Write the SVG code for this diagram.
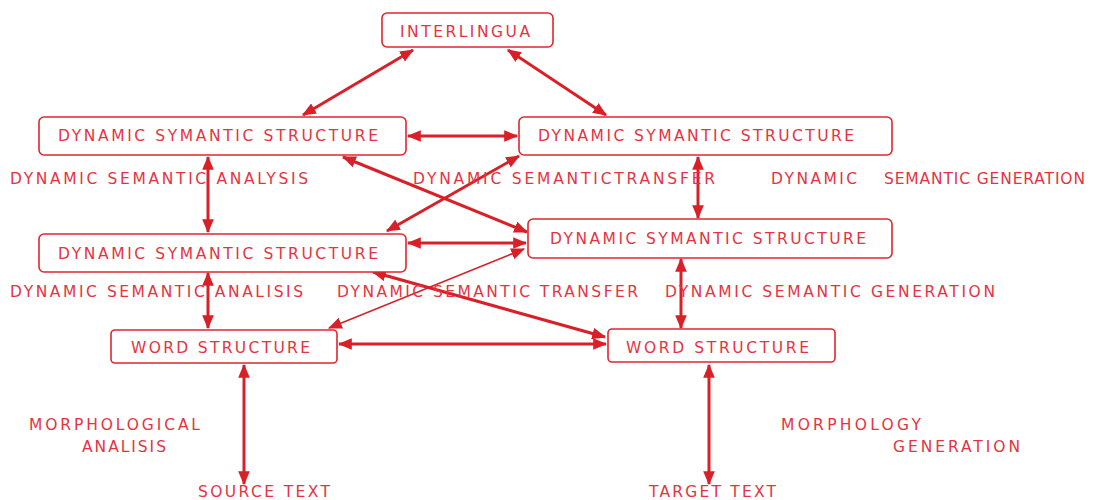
<svg xmlns="http://www.w3.org/2000/svg" width="1113" height="500" viewBox="0 0 1113 500">
  <style>
    .box { fill: #ffffff; stroke: #e0262f; stroke-width: 1.6; }
    .lbl { font-family: "DejaVu Sans", "Liberation Sans", Arial, sans-serif; font-size: 15.5px; fill: #e5343f; }
    .link { fill: none; stroke: #d91f28; stroke-width: 3; marker-start: url(#head); marker-end: url(#head); }
    .thin { stroke-width: 1.6; }
  </style>
  <defs>
    <marker id="head" viewBox="0 0 12 10" refX="11" refY="5" markerWidth="14" markerHeight="12" markerUnits="userSpaceOnUse" orient="auto-start-reverse">
      <path d="M0,0 L12,5 L0,10 Z" fill="#d91f28"/>
    </marker>
  </defs>
  <rect width="1113" height="500" fill="#ffffff"/>

  <!-- connectors -->
  <g id="connectors">
    <line class="link" x1="413" y1="50" x2="303" y2="115"/>
    <line class="link" x1="508" y1="50" x2="606" y2="115"/>
    <line class="link" x1="408" y1="136" x2="517" y2="136"/>
    <line class="link" x1="208" y1="157" x2="208" y2="232"/>
    <line class="link" x1="698" y1="157" x2="698" y2="218"/>
    <line class="link" x1="343" y1="157" x2="527" y2="232"/>
    <line class="link" x1="519" y1="156" x2="387" y2="231"/>
    <line class="link" x1="408" y1="243" x2="526" y2="243"/>
    <line class="link" x1="208" y1="273" x2="208" y2="328"/>
    <line class="link" x1="681" y1="259" x2="681" y2="328"/>
    <line class="link" x1="373" y1="272" x2="605" y2="337"/>
    <line class="link thin" x1="524" y1="249" x2="329" y2="328"/>
    <line class="link" x1="339" y1="344" x2="606" y2="344"/>
    <line class="link" x1="244" y1="365" x2="244" y2="484"/>
    <line class="link" x1="709" y1="365" x2="709" y2="484"/>
  </g>

  <!-- nodes -->
  <g id="interlingua">
    <rect class="box" x="382" y="13" width="171" height="34" rx="5"/>
    <text class="lbl" x="400" y="37" textLength="130" lengthAdjust="spacing">INTERLINGUA</text>
  </g>
  <g id="dss-left-top">
    <rect class="box" x="39" y="117" width="367" height="38" rx="5"/>
    <text class="lbl" x="58" y="141" textLength="320" lengthAdjust="spacing">DYNAMIC SYMANTIC STRUCTURE</text>
  </g>
  <g id="dss-right-top">
    <rect class="box" x="519" y="117" width="373" height="38" rx="5"/>
    <text class="lbl" x="538" y="141" textLength="316" lengthAdjust="spacing">DYNAMIC SYMANTIC STRUCTURE</text>
  </g>
  <g id="dss-left-mid">
    <rect class="box" x="39" y="234" width="367" height="38" rx="5"/>
    <text class="lbl" x="58" y="259" textLength="320" lengthAdjust="spacing">DYNAMIC SYMANTIC STRUCTURE</text>
  </g>
  <g id="dss-right-mid">
    <rect class="box" x="528" y="219" width="364" height="39" rx="5"/>
    <text class="lbl" x="550" y="244" textLength="316" lengthAdjust="spacing">DYNAMIC SYMANTIC STRUCTURE</text>
  </g>
  <g id="word-left">
    <rect class="box" x="111" y="330" width="226" height="33" rx="4"/>
    <text class="lbl" x="131" y="353" textLength="179" lengthAdjust="spacing">WORD STRUCTURE</text>
  </g>
  <g id="word-right">
    <rect class="box" x="608" y="329" width="227" height="33" rx="4"/>
    <text class="lbl" x="626" y="353" textLength="183" lengthAdjust="spacing">WORD STRUCTURE</text>
  </g>

  <!-- process labels -->
  <g id="labels">
    <text class="lbl" x="10" y="184" textLength="298" lengthAdjust="spacing">DYNAMIC SEMANTIC ANALYSIS</text>
    <text class="lbl" x="413" y="184" textLength="302" lengthAdjust="spacing">DYNAMIC SEMANTICTRANSFER</text>
    <text class="lbl" x="771" y="184" textLength="86" lengthAdjust="spacing">DYNAMIC</text>
    <text class="lbl" x="884" y="184" textLength="201" lengthAdjust="spacing">SEMANTIC GENERATION</text>
    <text class="lbl" x="10" y="297" textLength="293" lengthAdjust="spacing">DYNAMIC SEMANTIC ANALISIS</text>
    <text class="lbl" x="337" y="297" textLength="301" lengthAdjust="spacing">DYNAMIC SEMANTIC TRANSFER</text>
    <text class="lbl" x="665" y="297" textLength="330" lengthAdjust="spacing">DYNAMIC SEMANTIC GENERATION</text>
    <text class="lbl" x="29" y="430" textLength="171" lengthAdjust="spacing">MORPHOLOGICAL</text>
    <text class="lbl" x="82" y="452" textLength="84" lengthAdjust="spacing">ANALISIS</text>
    <text class="lbl" x="781" y="430" textLength="140" lengthAdjust="spacing">MORPHOLOGY</text>
    <text class="lbl" x="893" y="452" textLength="127" lengthAdjust="spacing">GENERATION</text>
    <text class="lbl" x="198" y="497" textLength="132" lengthAdjust="spacing">SOURCE TEXT</text>
    <text class="lbl" x="649" y="497" textLength="127" lengthAdjust="spacing">TARGET TEXT</text>
  </g>
</svg>
